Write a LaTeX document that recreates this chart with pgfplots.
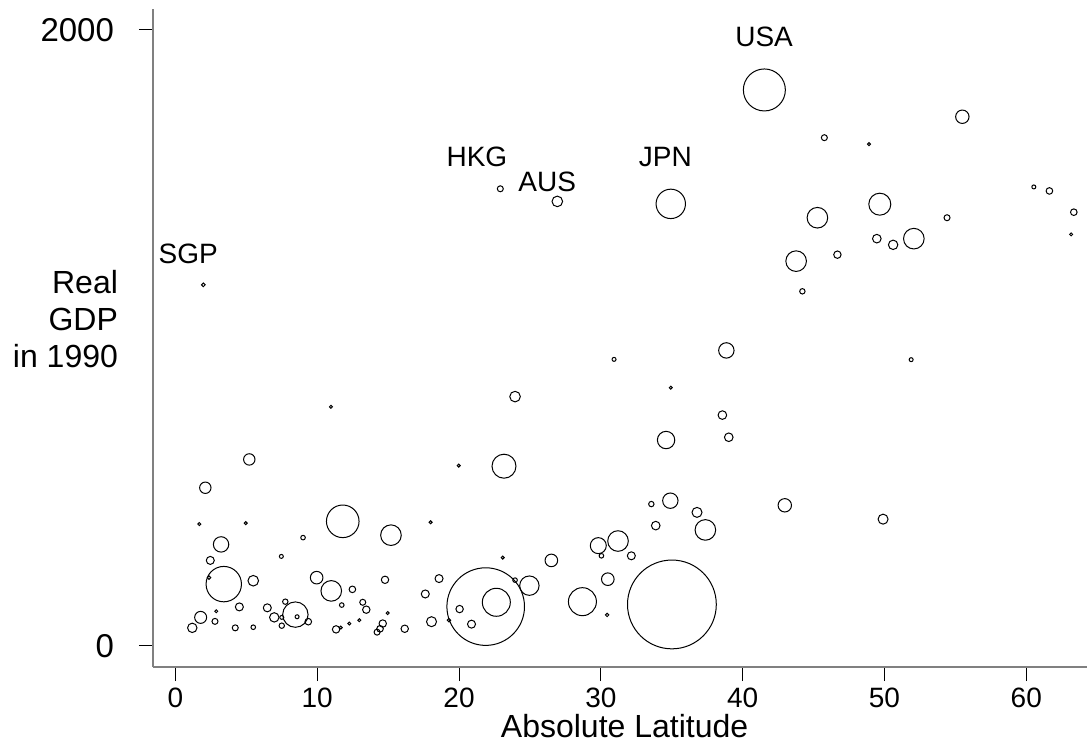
\documentclass[border=0pt]{standalone}
\usepackage{fontspec}
\setmainfont{Liberation Sans}
\usepackage{pgfplots}
\usepackage{pgfplotstable}
\pgfplotsset{compat=1.18}

% latitude, GDP, bubble radius (px of the original)
\pgfplotstableread{
lat gdp r
10.97 776 1.5
5.21 605 5.7
2.11 513 5.7
1.69 395 1.5
4.96 398 1.5
18.00 401 1.5
19.98 585 1.5
11.80 404 16.3
15.20 359 10.3
3.22 329 7.7
2.46 277 4
9.00 351 2.3
7.47 290 2
3.41 200 17.7
2.37 221 1.7
5.49 211 5.3
9.96 221 6.3
10.99 178 10.3
12.48 183 3.3
14.78 214 3.7
18.59 218 4
17.62 168 4
21.88 127 38.8
20.04 119 3.7
20.88 70 4
19.29 83 1.7
18.06 78 5
16.17 55 3.7
14.97 106 1.5
12.97 83 1.5
12.26 72 1.5
13.46 117 3.7
13.21 141 3
11.73 132 2.3
11.33 53 3.7
11.66 59 1.5
14.62 72 3.7
14.43 55 3.3
14.22 44 3
8.46 101 12.7
8.58 94 2
9.37 78 3.3
7.75 143 2.7
6.48 123 4
6.97 92 4.7
7.50 92 2
7.50 65 2.7
4.51 126 4
5.49 60 2.3
4.22 58 3
2.88 112 1.5
2.79 79 3
1.78 92 6
1.19 58 4.7
34.93 838 1.5
23.95 809 5.3
38.57 749 4.3
39.02 677 4.3
34.60 668 8.7
23.17 583 12
34.90 471 7.7
33.56 460 2.7
36.78 433 5
33.87 390 4.3
37.37 376 10.3
29.82 325 8
31.21 340 10.3
30.04 292 2.3
32.15 292 4
23.08 286 1.5
26.51 277 6.3
23.95 213 2.3
24.96 195 9.7
30.49 216 6.3
22.63 141 14
28.70 143 14
30.44 100 1.7
35.01 134 44.4
41.53 1805 21
55.49 1718 6.7
45.76 1650 3
48.91 1629 1.5
34.93 1435 14.7
60.53 1490 2
61.63 1477 3.3
63.35 1408 3.3
63.16 1336 1.5
49.67 1434 11
45.27 1390 10.3
54.41 1390 3
49.46 1322 4.3
50.61 1302 4.7
52.07 1322 10.3
43.77 1249 10.3
46.68 1270 3.7
44.21 1151 2.7
38.85 959 7.7
30.93 930 2
51.88 929 2
22.91 1484 3
26.93 1443 5.3
1.97 1172 1.8
42.97 456 6.7
49.90 411 5
}\bubbles

\begin{document}
\begin{tikzpicture}
\begin{axis}[
    at={(0,0)}, anchor=south west,
    scale only axis,
    width=467pt, height=329pt,
    xmin=-1.58, xmax=64.28,
    ymin=-69.2, ymax=2067.9,
    axis x line*=bottom, axis y line*=left,
    axis line style={gray, line width=0.6pt},
    xtick={0,10,...,60}, ytick={0,2000},
    tick align=outside,
    major tick length=7pt,
    tick style={black, line width=0.5pt},
    xticklabel style={font=\fontsize{14}{17}\selectfont},
    yticklabel style={font=\fontsize{16.5}{19}\selectfont, xshift=-9pt},
    /pgf/number format/assume math mode=true,
    /pgf/number format/1000 sep={},
    clip=false,
]
\addplot[scatter, only marks, mark=o,
    mark options={line width=0.5pt},
    scatter/use mapped color={draw=black, fill=none},
    visualization depends on={0.5*\thisrow{r} \as \rad},
    scatter/@pre marker code/.append style={/tikz/mark size=\rad}]
    table[x=lat, y=gdp] {\bubbles};

\begin{scope}[every node/.style={anchor=base, font=\fontsize{14}{17}\selectfont}]
\node at (axis cs:41.51,1945) {USA};
\node at (axis cs:34.55,1556) {JPN};
\node at (axis cs:21.26,1556) {HKG};
\node at (axis cs:26.22,1474) {AUS};
\node at (axis cs:0.90,1242) {SGP};
\end{scope}
\end{axis}

\node[anchor=east, align=right, font=\fontsize{16}{18.5}\selectfont]
    at (-14pt,174pt) {Real\\GDP\\in 1990};
\node[anchor=base, font=\fontsize{16}{19}\selectfont]
    at (235.8pt,-35pt) {Absolute Latitude};

\pgfresetboundingbox
\path (-76.5pt,-39.5pt) rectangle (467pt,333.5pt);
\end{tikzpicture}
\end{document}
